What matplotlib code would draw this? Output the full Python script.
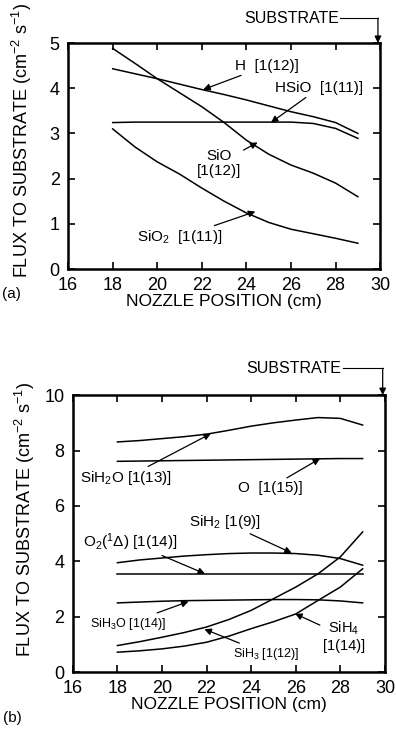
import matplotlib
matplotlib.use("Agg")
import matplotlib.pyplot as plt

plt.rcParams['font.family'] = ['Liberation Sans', 'DejaVu Sans']
plt.rcParams['mathtext.fontset'] = 'custom'
plt.rcParams['mathtext.rm'] = 'Liberation Sans'
plt.rcParams['mathtext.it'] = 'Liberation Sans'

## panel (a) data
x_a = [18, 19, 20, 21, 22, 23, 24, 25, 26, 27, 28, 29]
h_flux = [4.43, 4.32, 4.21, 4.09, 3.97, 3.86, 3.74, 3.61, 3.48, 3.37, 3.24, 3.0]
hsio_flux = [3.24, 3.25, 3.25, 3.25, 3.25, 3.25, 3.25, 3.25, 3.25, 3.22, 3.11, 2.89]
sio_flux = [4.88, 4.55, 4.21, 3.9, 3.59, 3.24, 2.85, 2.54, 2.3, 2.12, 1.9, 1.6]
sio2_flux = [3.1, 2.7, 2.37, 2.1, 1.79, 1.5, 1.24, 1.03, 0.88, 0.78, 0.68, 0.57]

## panel (b) data
x_b = [18, 19, 20, 21, 22, 23, 24, 25, 26, 27, 28, 29]
sih2o_flux = [8.31, 8.36, 8.43, 8.5, 8.59, 8.73, 8.88, 9.0, 9.1, 9.19, 9.16, 8.92]
o_flux = [7.61, 7.62, 7.63, 7.64, 7.65, 7.66, 7.67, 7.68, 7.69, 7.7, 7.71, 7.71]
sih2_flux = [3.95, 4.05, 4.12, 4.19, 4.24, 4.28, 4.3, 4.3, 4.28, 4.22, 4.1, 3.86]
o2d_flux = [3.55, 3.55, 3.55, 3.55, 3.55, 3.55, 3.55, 3.55, 3.55, 3.55, 3.55, 3.55]
sih3o_flux = [2.5, 2.53, 2.56, 2.58, 2.59, 2.6, 2.61, 2.62, 2.62, 2.61, 2.57, 2.5]
sih3_flux = [0.96, 1.1, 1.26, 1.43, 1.63, 1.9, 2.23, 2.65, 3.07, 3.55, 4.16, 5.06]
sih4_flux = [0.72, 0.77, 0.84, 0.94, 1.08, 1.3, 1.57, 1.82, 2.1, 2.59, 3.07, 3.73]

ylabel = 'FLUX TO SUBSTRATE (cm$^{-2}$ s$^{-1}$)'
xlabel = 'NOZZLE POSITION (cm)'

fig = plt.figure(figsize=(3.96, 7.29), dpi=100)
ax1 = fig.add_axes([0.172, 0.631, 0.788, 0.310])
ax2 = fig.add_axes([0.184, 0.078, 0.788, 0.380])

arrow = dict(arrowstyle='-|>', color='black', lw=0.9, mutation_scale=10, shrinkA=0, shrinkB=0)


def style(ax, yticks, ylab_pos):
	ax.set_xlim(16, 30)
	ax.set_xticks(range(16, 31, 2))
	ax.set_yticks(yticks)
	ax.set_ylim(yticks[0], yticks[-1])
	ax.tick_params(direction='in', top=True, right=True, length=5, width=1.2, labelsize=13, pad=6)
	for s in ax.spines.values():
		s.set_linewidth(1.8)
	ax.set_xlabel(xlabel, fontsize=12.5, labelpad=0)
	ax.set_ylabel(ylabel, fontsize=13)
	ax.yaxis.set_label_coords(*ylab_pos)


def substrate(ax, xt, yt, ytop):
	ax.text(xt, yt, 'SUBSTRATE', fontsize=11.5, va='center', ha='left', clip_on=False)
	ax.plot([xt + 4.3, 29.9], [yt, yt], color='black', lw=0.8, clip_on=False)
	ax.annotate('', xy=(29.9, ytop), xytext=(29.9, yt), arrowprops=arrow, annotation_clip=False)


## (a)
lw = 1.1
ax1.plot(x_a, h_flux, 'k', lw=lw)
ax1.plot(x_a, hsio_flux, 'k', lw=lw)
ax1.plot(x_a, sio_flux, 'k', lw=lw)
ax1.plot(x_a, sio2_flux, 'k', lw=lw)
style(ax1, [0, 1, 2, 3, 4, 5], (-0.11, 0.57))

fs = 11
ax1.annotate('H  [1(12)]', xy=(22.06, 3.97), xytext=(23.5, 4.5), fontsize=fs, va='center', arrowprops=arrow)
ax1.annotate('HSiO  [1(11)]', xy=(25.1, 3.24), xytext=(25.3, 4.01), fontsize=fs, va='center', arrowprops=arrow)
ax1.annotate('SiO\n[1(12)]', xy=(24.5, 2.8), xytext=(22.75, 2.33), fontsize=fs, va='center', ha='center', arrowprops=arrow, linespacing=1.1)
ax1.annotate('SiO$_2$  [1(11)]', xy=(24.4, 1.27), xytext=(19.1, 0.7), fontsize=fs, va='center', arrowprops=arrow)
substrate(ax1, 23.9, 5.55, 5.0)
fig.text(0.005, 0.591, '(a)', fontsize=11)

## (b)
for ys in [sih2o_flux, o_flux, sih2_flux, o2d_flux, sih3o_flux, sih3_flux, sih4_flux]:
	ax2.plot(x_b, ys, 'k', lw=lw)
style(ax2, [0, 2, 4, 6, 8, 10], (-0.115, 0.55))

ax2.annotate('SiH$_2$O [1(13)]', xy=(22.19, 8.61), xytext=(16.3, 7.0), fontsize=fs, va='center', arrowprops=arrow)
ax2.annotate('O  [1(15)]', xy=(27.09, 7.71), xytext=(23.4, 6.66), fontsize=fs, va='center', arrowprops=arrow)
ax2.annotate('SiH$_2$ [1(9)]', xy=(25.82, 4.3), xytext=(21.2, 5.42), fontsize=fs, va='center', arrowprops=arrow)
ax2.annotate('O$_2$($^1\\Delta$) [1(14)]', xy=(21.93, 3.55), xytext=(16.45, 4.7), fontsize=fs, va='center', arrowprops=arrow)
ax2.annotate('SiH$_3$O [1(14)]', xy=(21.19, 2.55), xytext=(16.75, 1.75), fontsize=9, va='center', arrowprops=arrow)
ax2.annotate('SiH$_3$ [1(12)]', xy=(21.9, 1.55), xytext=(23.2, 0.66), fontsize=9, va='center', arrowprops=arrow)
ax2.annotate('SiH$_4$\n[1(14)]', xy=(25.97, 2.11), xytext=(28.15, 1.3), fontsize=fs - 0.5, va='center', ha='center', arrowprops=arrow, linespacing=1.2)
substrate(ax2, 23.8, 10.97, 10.0)
fig.text(0.008, 0.01, '(b)', fontsize=11)

fig.savefig('out.png', dpi=100)
